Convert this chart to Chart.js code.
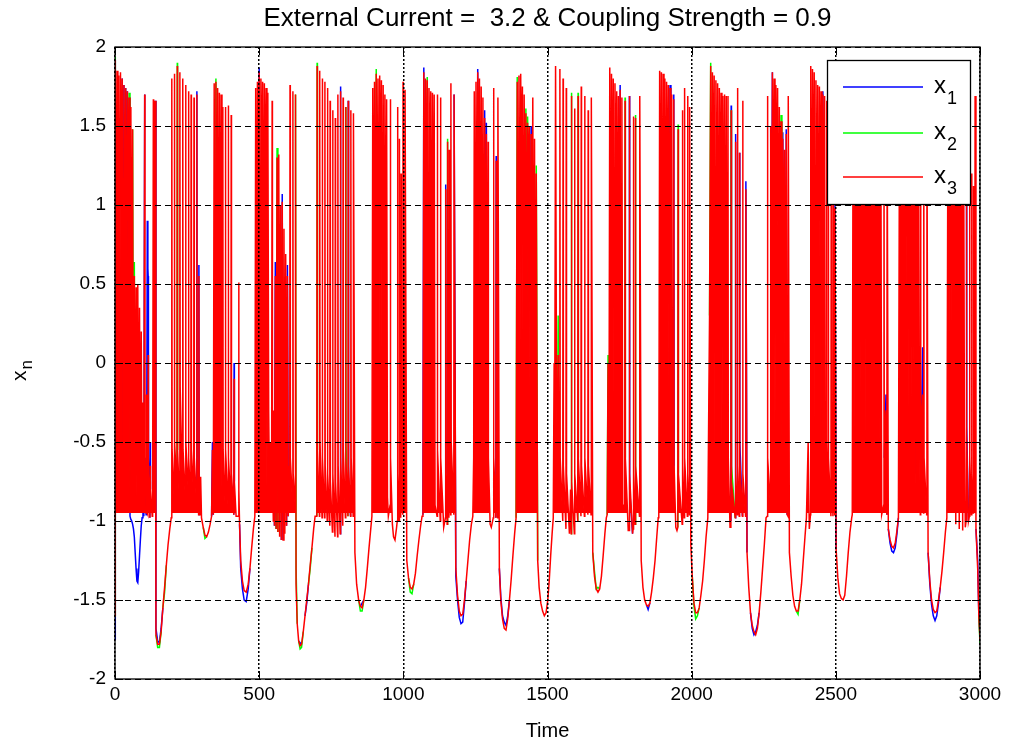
<!DOCTYPE html>
<html>
<head>
<meta charset="utf-8">
<title>External Current = 3.2 &amp; Coupling Strength = 0.9</title>
<script src="https://cdn.jsdelivr.net/npm/chart.js@4.4.1/dist/chart.umd.min.js"></script>
<style>
  html, body { margin: 0; padding: 0; background: #fff; }
  #wrap { width: 1012px; height: 744px; }
</style>
</head>
<body>
<div id="wrap"><canvas id="xnChart" width="1012" height="744"></canvas></div>
<script>
// axis ticks
const xTicks = [0, 500, 1000, 1500, 2000, 2500, 3000];
const yTicks = [-2, -1.5, -1, -0.5, 0, 0.5, 1, 1.5, 2];

// series names / colours (matlab b, g, r)
const seriesNames = ['x1', 'x2', 'x3'];
const seriesColors = ['#0000ff', '#00ff00', '#ff0000'];

// time samples, one line per burst or dip
const timeVals = [
  0,1,4,7,10,13,16,19,22,25,28,31,34,37,40,43,46,49,52,55,58,61,64,
  67,70,73,76,79,82,85,88,91,94,97,100,
  103,104,108,109,110,112,114,115,116,121,122,123,129,130,131,133,134,138,139,142,148,154,160,166,172,178,184,190,195,
  197,198,205,206,207,215,216,217,224,225,226,234,235,236,244,245,246,254,255,256,263,264,265,273,274,275,283,284,285,290,291,292,295,
  297,300,306,312,318,324,330,335,338,341,
  344,347,350,353,356,359,362,365,368,371,374,375,382,383,384,392,393,394,402,403,404,412,413,414,420,428,429,430,432,
  436,442,448,455,462,468,474,480,485,
  488,491,494,497,500,503,506,509,512,515,518,521,524,527,530,533,536,539,543,545,546,549,
  551,553,556,559,562,565,568,571,574,577,580,583,586,589,592,595,598,601,604,
  606,607,608,616,617,618,625,626,628,632,637,642,647,653,659,665,671,677,683,689,694,
  700,701,702,709,710,711,718,719,720,727,728,729,736,737,738,745,746,747,754,755,756,763,764,765,772,773,774,781,782,783,790,791,792,799,800,801,808,809,810,817,818,819,826,827,
  832,838,845,851,857,863,869,875,881,887,891,
  894,897,900,903,906,909,912,915,918,921,924,927,930,933,936,939,942,945,948,954,955,956,962,966,971,976,979,980,981,985,986,987,991,992,993,998,999,1000,1005,1006,
  1012,1018,1024,1030,1036,1042,1048,1054,1060,1065,
  1068,1071,1074,1077,1080,1083,1086,1089,1092,1095,1098,1101,1104,1107,1110,1117,1118,1119,1128,1129,1130,1140,1146,1147,1148,1152,1153,1154,1158,1159,1160,1164,1165,1166,1175,1176,
  1182,1188,1194,1200,1206,1212,1218,1224,1230,1236,1241,
  1244,1246,1249,1252,1255,1258,1261,1264,1267,1270,1273,1276,1279,1282,1285,1288,1291,1294,1295,1301,1305,1312,1313,1314,1321,1322,1323,1327,1328,
  1333,1338,1344,1350,1356,1362,1368,1374,1380,1386,1391,
  1395,1398,1401,1404,1407,1410,1413,1416,1419,1422,1425,1428,1431,1434,1437,1440,1443,1446,1449,1452,1455,1458,1461,
  1466,1471,1477,1483,1489,1495,1501,1506,1511,1516,1520,
  1523,1525,1528,1531,1534,1537,1540,1543,1544,1553,1554,1555,1564,1565,1566,1576,1580,1582,1583,1584,1593,1594,1595,1605,1606,1607,1616,1617,1618,1628,1629,1630,1640,1641,1642,1651,1652,
  1657,1663,1669,1675,1681,1687,1693,1699,1704,
  1707,1710,1713,1716,1719,1722,1725,1728,1731,1734,1737,1740,1743,1746,1749,1752,1755,1758,1761,1768,1769,1770,1780,1783,1784,1785,1795,1797,1798,1799,1804,1805,1806,1819,1820,
  1825,1831,1837,1843,1849,1855,1861,1867,1873,1879,1884,
  1886,1889,1892,1895,1898,1901,1904,1907,1910,1913,1916,1919,1922,1925,1928,1931,1934,1937,1938,1939,1945,1949,1952,1953,1954,1967,1968,1969,1974,1975,1976,1985,1986,1987,1992,1993,
  1997,2002,2008,2014,2020,2026,2032,2038,2044,2050,2056,
  2062,2066,2069,2072,2075,2078,2081,2084,2087,2090,2093,2096,2099,2102,2105,2108,2111,2114,2117,2120,2123,2126,2127,2133,2136,2137,2138,2151,2152,2153,2158,2159,2160,2165,2166,2167,2176,2177,2178,2187,2188,
  2192,2198,2204,2210,2216,2222,2228,2234,2240,2246,2252,2258,
  2262,2263,2264,2273,2274,2277,2280,2283,2286,2289,2292,2295,2298,2301,2304,2307,2310,2313,2316,2319,2322,2325,2328,2331,2334,2335,
  2339,2345,2351,2357,2363,2369,2375,2381,2387,2393,2398,
  2404,2408,2412,2413,2416,2419,2422,2425,2428,2431,2434,2437,2440,2443,2446,2449,2452,2455,2458,2461,2464,2467,2468,2469,2473,2474,2475,2483,2484,2485,2490,2491,2492,2496,2497,
  2501,2507,2513,2519,2525,2531,2537,2543,2549,2555,
  2557,2560,2563,2566,2569,2572,2575,2578,2581,2584,2587,2590,2593,2596,2599,2602,2605,2608,2611,2614,2617,2620,2623,2626,2629,2632,2635,2638,2641,2644,2647,2650,2653,2656,2659,2666,2667,2668,2674,2677,2678,
  2682,2688,2694,2700,2706,2712,2717,
  2721,2724,2727,2730,2733,2736,2739,2742,2745,2748,2751,2754,2757,2760,2763,2766,2769,2772,2775,2778,2781,2784,2787,2790,2793,2794,2795,2801,2804,2805,2806,2815,2816,
  2820,2826,2832,2838,2844,2850,2856,2862,2868,2874,2880,2885,
  2889,2892,2895,2898,2901,2904,2907,2910,2913,2916,2919,2922,2925,2928,2931,2934,2937,2940,2943,2946,2949,2952,2953,2954,2960,2963,2964,2965,2970,2971,2972,2976,2977,2978,2982,2983,2986,2992,2996,3000
];

// x1 (blue)
const x1Vals = [
  -1.75,1.92,-0.2,1.85,0.6,1.82,-0.5,1.84,1.0,1.8,-0.65,1.76,0.3,1.74,-0.6,1.72,0.9,1.68,-0.97,-0.99,-1.0,-1.02,-1.05,
  -1.1,-1.2,-1.3,-1.38,-1.39,-1.32,-1.22,-1.12,-1.03,-0.98,-0.6,-0.97,
  1.7,-0.6,-0.96,-0.96,-0.9,0.9,0.6,0.55,-0.6,-0.98,-0.5,-0.8,-0.97,-0.75,-0.97,1.67,-0.5,-0.9,1.66,-1.68,-1.76,-1.77,-1.68,-1.55,-1.42,-1.28,-1.15,-1.05,-0.98,
  1.8,-0.55,-0.85,1.83,-0.5,-0.8,1.88,-0.55,-0.9,1.84,-0.15,-0.8,1.8,-0.55,-0.85,1.76,-0.5,-0.8,1.72,-0.6,-0.9,1.7,-0.55,-0.85,1.68,-0.6,-0.9,1.72,-0.6,-0.96,0.62,-0.8,-0.96,
  -0.72,-0.98,-1.04,-1.09,-1.1,-1.07,-1.02,-0.97,-0.5,-0.96,
  1.77,-0.6,1.78,0.2,1.74,-0.7,1.71,-0.3,1.7,-0.8,1.62,-0.55,-0.9,1.62,-0.55,-0.9,1.63,-0.6,-0.9,1.57,-0.7,-0.96,0.0,-0.75,-0.97,-0.97,0.51,-0.8,-1.02,
  -1.3,-1.43,-1.5,-1.51,-1.43,-1.3,-1.17,-1.05,-0.97,
  1.74,-0.3,1.78,0.5,1.87,-0.6,1.8,1.0,1.78,-0.2,1.77,0.8,1.74,-0.8,1.71,-0.3,-0.9,-0.5,-0.95,1.66,-0.6,-1.0,
  -0.3,-1.03,0.64,-1.05,1.3,-1.07,1.32,-1.1,1.0,-1.12,1.07,-1.12,0.85,-1.08,0.69,-1.03,0.62,-0.97,-0.65,
  -0.9,1.76,-0.6,-0.9,1.72,-0.7,-0.9,1.7,-1.4,-1.65,-1.76,-1.77,-1.78,-1.7,-1.6,-1.52,-1.4,-1.28,-1.17,-1.05,-0.97,
  -0.97,1.88,-0.55,-0.97,1.85,-0.5,-0.98,1.8,-0.6,-0.98,1.78,-0.65,-1.0,1.74,-0.7,-1.03,1.66,-0.75,-1.07,1.6,-0.7,-1.1,1.55,-0.75,-1.1,1.7,-0.65,-1.08,1.75,-0.6,-1.03,1.68,-0.55,-0.98,1.62,-0.6,-0.97,1.66,-0.72,-0.97,1.6,-0.6,-0.97,1.58,
  -1.2,-1.4,-1.5,-1.54,-1.52,-1.5,-1.42,-1.3,-1.17,-1.05,-0.97,
  1.74,0.2,1.78,-0.6,1.83,0.8,1.8,-0.5,1.82,1.0,1.79,-0.8,1.76,0.2,1.7,-0.3,1.67,-0.85,-0.97,-0.9,1.67,-0.6,-1.02,-1.1,-1.12,-1.05,-1.0,1.62,-0.7,-1.0,1.42,-0.7,-0.98,1.2,-0.75,-0.96,1.78,-0.6,-0.9,1.73,
  -1.25,-1.36,-1.42,-1.43,-1.4,-1.33,-1.22,-1.12,-1.03,-0.97,
  -0.96,1.87,-0.2,1.8,0.6,1.79,-0.6,1.74,1.0,1.72,-0.8,1.71,0.2,1.7,-0.9,-0.97,1.7,-0.55,-1.0,1.68,-0.6,-1.04,-0.98,1.13,-0.7,-1.02,1.4,-0.6,-0.98,1.35,-0.65,-0.96,1.77,-0.5,-0.96,1.7,
  -1.35,-1.5,-1.61,-1.65,-1.64,-1.52,-1.38,-1.25,-1.12,-1.02,-0.97,
  -0.6,1.72,0.4,1.78,-0.5,1.86,0.9,1.8,-0.3,1.75,0.5,1.68,-0.8,1.6,-0.4,1.52,-0.9,1.4,-0.6,-1.02,-1.04,-0.98,1.74,-0.6,-0.98,1.31,-0.6,-0.98,1.68,
  -1.3,-1.48,-1.6,-1.64,-1.66,-1.6,-1.5,-1.37,-1.22,-1.08,-0.98,
  1.78,0.2,1.82,-0.4,1.83,1.1,1.75,-0.6,1.7,0.7,1.58,-0.3,1.52,1.0,1.5,-0.7,1.5,0.3,1.68,-0.85,1.42,-0.9,1.2,
  -1.25,-1.42,-1.52,-1.57,-1.6,-1.58,-1.5,-1.38,-1.22,-1.08,-0.98,
  0.0,-0.5,1.88,-0.1,-0.55,0.05,-0.9,1.86,-0.6,-1.0,1.8,-0.65,-1.05,1.74,-0.7,-1.08,-0.8,-1.08,1.69,-0.75,-1.08,1.61,-0.7,-1.0,1.69,-0.6,-0.97,1.75,-0.65,-0.97,1.69,-0.6,-0.96,1.6,-0.65,-0.96,1.68,
  -1.2,-1.35,-1.43,-1.45,-1.43,-1.35,-1.22,-1.08,-0.98,
  -0.96,0.0,-0.8,1.87,-0.2,1.83,0.6,1.8,-0.5,1.77,0.9,1.72,-0.3,1.69,0.3,1.76,-0.7,1.68,-0.9,-0.9,1.66,-0.6,-1.06,-1.06,1.69,-0.8,-1.08,-1.05,1.56,-0.7,-1.02,1.55,-0.65,-0.97,1.69,
  -1.25,-1.42,-1.5,-1.53,-1.56,-1.52,-1.45,-1.36,-1.25,-1.1,-0.98,
  -0.96,1.85,0.2,1.84,-0.5,1.83,1.0,1.8,-0.2,1.78,0.5,1.76,-0.7,1.76,-0.3,1.7,-0.85,-0.9,1.7,-0.65,-1.04,-1.06,-1.04,1.48,-0.7,-1.02,1.6,-0.65,-0.98,1.74,-0.6,-0.97,1.69,-0.7,-0.96,1.62,
  -1.15,-1.35,-1.52,-1.58,-1.58,-1.55,-1.47,-1.38,-1.25,-1.1,-0.98,
  0.3,1.88,-0.4,1.84,0.8,1.82,-0.6,1.79,0.2,1.77,-0.8,1.74,0.6,1.71,-0.5,1.69,0.1,1.7,-0.9,1.69,-0.3,1.69,-0.6,-1.04,-1.0,1.63,-0.75,-0.98,1.45,-0.7,-0.96,1.74,-0.65,-0.97,1.33,-0.5,-0.97,1.66,-0.7,-0.97,1.15,
  -1.2,-1.42,-1.58,-1.68,-1.72,-1.7,-1.66,-1.58,-1.45,-1.3,-1.15,-0.98,
  -0.97,1.69,-0.6,-0.9,1.5,-0.15,1.84,0.6,1.8,-0.4,1.76,0.9,1.74,-0.2,1.62,0.5,1.53,-0.6,1.46,0.2,1.35,-0.9,1.48,-0.96,-0.97,1.69,
  -1.2,-1.35,-1.47,-1.54,-1.57,-1.57,-1.5,-1.4,-1.25,-1.1,-0.98,
  -0.5,-1.05,-0.96,1.88,-0.3,1.86,0.6,1.84,-0.6,1.79,0.2,1.76,-0.8,1.75,0.9,1.72,-0.4,1.72,0.4,1.69,-0.9,-0.9,1.66,-0.5,-0.9,1.6,-0.6,-0.97,1.48,-0.65,-0.97,1.5,-0.7,-0.96,1.02,
  -1.18,-1.36,-1.46,-1.49,-1.5,-1.47,-1.35,-1.2,-1.07,-0.98,
  -0.96,1.76,-0.5,1.8,0.3,1.84,-0.7,1.82,0.9,1.8,-0.2,1.78,-0.45,1.76,0.5,1.74,-0.8,1.75,1.0,1.72,-0.3,1.7,-0.85,1.7,0.2,1.68,0.1,1.66,-0.9,1.65,-0.7,1.62,-0.5,1.6,-0.96,-0.9,1.58,-0.6,-0.2,-0.96,1.55,
  -1.05,-1.14,-1.19,-1.2,-1.17,-1.08,-0.98,
  1.72,-0.3,1.76,-0.55,1.78,0.4,1.75,-0.7,1.73,0.8,1.7,-0.5,1.7,-0.9,1.68,0.1,1.66,-0.75,1.64,-0.7,1.6,-0.9,1.6,-0.4,-0.96,1.58,-0.6,0.1,-0.95,1.55,-0.6,-0.96,1.5,
  -1.2,-1.4,-1.53,-1.6,-1.63,-1.6,-1.52,-1.42,-1.32,-1.2,-1.07,-0.98,
  1.7,-0.2,1.75,0.5,1.78,-0.7,1.76,0.2,1.74,-1.02,1.72,-0.5,1.7,-1.05,1.66,-0.8,1.62,-1.06,1.6,-0.4,-1.04,-1.0,1.55,-0.4,-1.0,-0.97,1.5,-0.6,-0.96,1.2,-0.7,-0.95,1.12,-0.7,-0.9,1.69,-1.05,-1.25,-1.6,-1.72
];

// x2 (green)
const x2Vals = [
  -1.6,1.94,-0.2,1.85,0.6,1.82,-0.5,1.84,1.0,1.8,-0.8,1.76,0.3,1.74,-0.7,1.72,0.9,1.71,-0.85,1.62,-0.5,1.48,-0.7,
  0.64,-0.9,0.48,-0.85,0.5,-0.9,0.35,-0.9,0.2,-0.9,-0.25,-0.95,
  1.7,-0.6,-0.95,-0.2,-0.8,-0.95,-0.96,0.05,-0.7,-0.98,-0.65,-0.8,-0.97,-0.75,-0.97,1.67,-0.5,-0.9,1.66,-1.72,-1.8,-1.8,-1.7,-1.55,-1.45,-1.28,-1.15,-1.05,-0.98,
  1.8,-0.55,-0.85,1.83,-0.5,-0.8,1.9,-0.55,-0.9,1.84,-0.15,-0.8,1.8,-0.55,-0.85,1.76,-0.5,-0.8,1.72,-0.6,-0.9,1.7,-0.55,-0.85,1.68,-0.6,-0.9,1.7,-0.6,-0.96,0.55,-0.8,-0.96,
  -0.72,-0.98,-1.04,-1.11,-1.1,-1.07,-1.02,-0.97,-0.55,-0.96,
  1.77,-0.6,1.8,0.2,1.74,-0.7,1.71,-0.3,1.7,-0.8,1.62,-0.55,-0.9,1.62,-0.55,-0.9,1.63,-0.6,-0.9,1.57,-0.7,-0.96,-0.1,-0.75,-0.97,-0.97,0.51,-0.8,-1.02,
  -1.25,-1.38,-1.44,-1.45,-1.4,-1.3,-1.17,-1.05,-0.97,
  1.74,-0.3,1.78,0.5,1.84,-0.6,1.8,1.0,1.78,-0.2,1.77,0.8,1.74,-0.8,1.71,-0.3,-0.9,-0.5,-0.95,1.66,-0.6,-1.0,
  -0.3,-1.03,0.55,-1.05,1.36,-1.07,1.32,-1.1,1.0,-1.12,1.02,-1.12,0.85,-1.08,0.69,-1.03,0.55,-0.97,-0.65,
  -0.9,1.76,-0.6,-0.9,1.72,-0.7,-0.9,1.7,-1.3,-1.65,-1.76,-1.81,-1.8,-1.7,-1.6,-1.5,-1.4,-1.3,-1.17,-1.05,-0.97,
  -0.97,1.9,-0.55,-0.97,1.85,-0.5,-0.98,1.8,-0.6,-0.98,1.78,-0.65,-1.0,1.74,-0.7,-1.03,1.66,-0.75,-1.07,1.6,-0.7,-1.1,1.55,-0.75,-1.1,1.7,-0.65,-1.08,1.72,-0.6,-1.03,1.68,-0.55,-0.98,1.62,-0.5,-0.97,1.66,-0.65,-0.97,1.6,-0.6,-0.97,1.58,
  -1.2,-1.4,-1.5,-1.57,-1.57,-1.5,-1.42,-1.3,-1.17,-1.05,-0.97,
  1.74,0.2,1.78,-0.6,1.86,0.8,1.8,-0.5,1.82,1.0,1.79,-0.8,1.76,0.2,1.7,-0.3,1.67,-0.85,-0.97,-0.9,1.67,-0.6,-1.02,-1.1,-1.12,-1.05,-1.0,1.62,-0.7,-1.0,1.42,-0.7,-0.98,1.2,-0.75,-0.96,1.78,-0.6,-0.9,1.73,
  -1.25,-1.36,-1.45,-1.46,-1.4,-1.33,-1.22,-1.12,-1.03,-0.97,
  -0.96,1.84,-0.2,1.8,0.6,1.81,-0.6,1.74,1.0,1.72,-0.8,1.71,0.2,1.7,-0.9,-0.97,1.7,-0.55,-1.0,1.68,-0.6,-1.04,-0.98,1.1,-0.7,-1.02,1.42,-0.6,-0.98,1.35,-0.65,-0.96,1.77,-0.5,-0.96,1.7,
  -1.3,-1.47,-1.57,-1.6,-1.59,-1.5,-1.38,-1.25,-1.12,-1.02,-0.97,
  -0.6,1.72,0.4,1.78,-0.5,1.84,0.9,1.8,-0.3,1.75,0.5,1.68,-0.8,1.55,-0.4,1.45,-0.9,1.4,-0.6,-1.02,-1.04,-0.98,1.74,-0.6,-0.98,1.28,-0.6,-0.98,1.68,
  -1.3,-1.5,-1.62,-1.68,-1.69,-1.62,-1.5,-1.37,-1.22,-1.08,-0.98,
  1.81,0.2,1.82,-0.4,1.83,1.1,1.75,-0.6,1.7,0.7,1.61,-0.3,1.56,1.0,1.5,-0.7,1.45,0.3,1.68,-0.85,1.42,-0.9,1.25,
  -1.25,-1.42,-1.52,-1.57,-1.6,-1.58,-1.5,-1.38,-1.22,-1.08,-0.98,
  0.0,-0.5,1.88,-0.1,-0.55,0.3,-0.9,1.86,-0.6,-1.0,1.8,-0.65,-1.05,1.74,-0.7,-1.08,-0.8,-1.08,1.71,-0.75,-1.08,1.61,-0.7,-1.0,1.71,-0.6,-0.97,1.75,-0.65,-0.97,1.69,-0.6,-0.96,1.6,-0.65,-0.96,1.68,
  -1.2,-1.32,-1.43,-1.42,-1.43,-1.35,-1.22,-1.08,-0.98,
  -0.96,0.05,-0.8,1.87,-0.2,1.83,0.6,1.8,-0.5,1.77,0.9,1.72,-0.3,1.69,0.3,1.73,-0.7,1.68,-0.9,-0.9,1.68,-0.6,-1.06,-1.06,1.69,-0.7,-1.08,-1.05,1.56,-0.7,-1.02,1.57,-0.65,-0.97,1.69,
  -1.25,-1.42,-1.5,-1.53,-1.54,-1.52,-1.45,-1.36,-1.25,-1.1,-0.98,
  -0.96,1.85,0.2,1.84,-0.5,1.83,1.0,1.8,-0.2,1.78,0.5,1.76,-0.7,1.74,-0.3,1.7,-0.85,-0.9,1.67,-0.65,-1.04,-1.06,-1.04,1.51,-0.7,-1.02,1.6,-0.65,-0.98,1.74,-0.6,-0.97,1.69,-0.7,-0.96,1.62,
  -1.15,-1.35,-1.54,-1.62,-1.6,-1.55,-1.47,-1.38,-1.25,-1.1,-0.98,
  0.3,1.9,-0.4,1.84,0.8,1.82,-0.6,1.79,0.2,1.77,-0.8,1.74,0.6,1.71,-0.5,1.69,0.1,1.7,-0.9,1.69,-0.3,1.69,-0.6,-1.04,-1.0,1.6,-0.65,-0.98,1.4,-0.7,-0.96,1.74,-0.65,-0.97,1.33,-0.6,-0.97,1.66,-0.7,-0.97,1.1,
  -1.2,-1.42,-1.58,-1.66,-1.7,-1.72,-1.68,-1.58,-1.45,-1.3,-1.15,-0.98,
  -0.97,1.69,-0.6,-0.9,1.5,0.0,1.84,0.6,1.8,-0.4,1.76,0.9,1.74,-0.2,1.62,0.5,1.57,-0.6,1.42,0.2,1.35,-0.9,1.45,-0.96,-0.97,1.69,
  -1.2,-1.35,-1.47,-1.54,-1.57,-1.59,-1.5,-1.4,-1.25,-1.1,-0.98,
  -0.5,-1.05,-0.96,1.88,-0.3,1.86,0.6,1.84,-0.6,1.79,0.2,1.76,-0.8,1.75,0.9,1.72,-0.4,1.7,0.4,1.69,-0.9,-0.9,1.66,-0.5,-0.9,1.6,-0.6,-0.97,1.48,-0.65,-0.97,1.5,-0.7,-0.96,0.98,
  -1.18,-1.36,-1.46,-1.49,-1.5,-1.47,-1.35,-1.2,-1.07,-0.98,
  -0.96,1.76,-0.5,1.8,0.3,1.84,-0.7,1.82,0.9,1.8,-0.2,1.78,-0.45,1.76,0.5,1.74,-0.8,1.75,1.0,1.72,-0.3,1.7,-0.85,1.7,0.2,1.68,-0.05,1.66,-0.9,1.65,-0.75,1.62,-0.5,1.6,-0.96,-0.9,1.58,-0.6,-0.3,-0.96,1.55,
  -1.05,-1.12,-1.16,-1.17,-1.14,-1.06,-0.98,
  1.72,-0.3,1.76,-0.5,1.78,0.4,1.75,-0.7,1.73,0.8,1.7,-0.5,1.7,-0.9,1.68,0.1,1.66,-0.75,1.64,-0.8,1.6,-0.9,1.6,-0.4,-0.96,1.58,-0.6,-0.2,-0.95,1.55,-0.6,-0.96,1.5,
  -1.2,-1.38,-1.5,-1.56,-1.58,-1.57,-1.5,-1.42,-1.32,-1.2,-1.07,-0.98,
  1.7,-0.2,1.75,0.5,1.78,-0.7,1.76,0.2,1.74,-1.02,1.72,-0.5,1.7,-1.05,1.66,-0.8,1.62,-1.06,1.6,-0.4,-1.04,-1.0,1.55,-0.45,-1.0,-0.97,1.5,-0.6,-0.96,1.2,-0.7,-0.95,1.12,-0.7,-0.9,1.69,-1.05,-1.3,-1.6,-1.78
];

// x3 (red)
const x3Vals = [
  -1.6,1.92,-0.2,1.85,0.6,1.82,-0.5,1.84,1.0,1.8,-0.8,1.76,0.3,1.74,-0.7,1.72,0.9,1.68,-0.85,1.62,-0.5,1.48,-0.9,
  0.55,-0.9,0.48,-0.85,0.5,-0.9,0.35,-0.9,0.2,-0.9,-0.25,-0.95,
  1.7,-0.6,-0.95,-0.2,-0.8,-0.95,-0.96,0.05,-0.7,-0.98,-0.65,-0.8,-0.97,-0.75,-0.97,1.67,-0.5,-0.9,1.66,-1.72,-1.78,-1.78,-1.7,-1.55,-1.42,-1.28,-1.15,-1.05,-0.98,
  1.8,-0.55,-0.85,1.83,-0.5,-0.8,1.88,-0.55,-0.9,1.84,-0.15,-0.8,1.8,-0.55,-0.85,1.76,-0.5,-0.8,1.72,-0.6,-0.9,1.7,-0.55,-0.85,1.68,-0.6,-0.9,1.7,-0.6,-0.96,0.55,-0.8,-0.96,
  -0.72,-0.98,-1.04,-1.09,-1.1,-1.07,-1.02,-0.97,-0.55,-0.96,
  1.77,-0.6,1.78,0.2,1.74,-0.7,1.71,-0.3,1.7,-0.8,1.62,-0.55,-0.9,1.62,-0.55,-0.9,1.63,-0.6,-0.9,1.57,-0.7,-0.96,-0.1,-0.75,-0.97,-0.97,0.51,-0.8,-1.02,
  -1.25,-1.38,-1.44,-1.45,-1.4,-1.3,-1.17,-1.05,-0.97,
  1.74,-0.3,1.78,0.5,1.84,-0.6,1.8,1.0,1.78,-0.2,1.77,0.8,1.74,-0.8,1.71,-0.3,-0.9,-0.5,-0.95,1.66,-0.6,-1.0,
  -0.3,-1.03,0.55,-1.05,1.3,-1.07,1.32,-1.1,1.0,-1.12,1.02,-1.12,0.85,-1.08,0.69,-1.03,0.55,-0.97,-0.65,
  -0.9,1.76,-0.6,-0.9,1.72,-0.7,-0.9,1.7,-1.4,-1.65,-1.76,-1.79,-1.78,-1.7,-1.6,-1.5,-1.4,-1.28,-1.17,-1.05,-0.97,
  -0.97,1.88,-0.55,-0.97,1.85,-0.5,-0.98,1.8,-0.6,-0.98,1.78,-0.65,-1.0,1.74,-0.7,-1.03,1.66,-0.75,-1.07,1.6,-0.7,-1.1,1.55,-0.75,-1.1,1.7,-0.65,-1.08,1.72,-0.6,-1.03,1.68,-0.55,-0.98,1.62,-0.6,-0.97,1.66,-0.65,-0.97,1.6,-0.6,-0.97,1.58,
  -1.2,-1.4,-1.5,-1.54,-1.55,-1.5,-1.42,-1.3,-1.17,-1.05,-0.97,
  1.74,0.2,1.78,-0.6,1.83,0.8,1.8,-0.5,1.82,1.0,1.79,-0.8,1.76,0.2,1.7,-0.3,1.67,-0.85,-0.97,-0.9,1.67,-0.6,-1.02,-1.1,-1.12,-1.05,-1.0,1.62,-0.7,-1.0,1.42,-0.7,-0.98,1.2,-0.75,-0.96,1.78,-0.6,-0.9,1.73,
  -1.25,-1.36,-1.42,-1.43,-1.4,-1.33,-1.22,-1.12,-1.03,-0.97,
  -0.96,1.84,-0.2,1.8,0.6,1.79,-0.6,1.74,1.0,1.72,-0.8,1.71,0.2,1.7,-0.9,-0.97,1.7,-0.55,-1.0,1.68,-0.6,-1.04,-0.98,1.1,-0.7,-1.02,1.4,-0.6,-0.98,1.35,-0.65,-0.96,1.77,-0.5,-0.96,1.7,
  -1.3,-1.47,-1.57,-1.6,-1.59,-1.5,-1.38,-1.25,-1.12,-1.02,-0.97,
  -0.6,1.72,0.4,1.78,-0.5,1.84,0.9,1.8,-0.3,1.75,0.5,1.68,-0.8,1.55,-0.4,1.45,-0.9,1.4,-0.6,-1.02,-1.04,-0.98,1.74,-0.6,-0.98,1.28,-0.6,-0.98,1.68,
  -1.3,-1.5,-1.62,-1.68,-1.69,-1.62,-1.5,-1.37,-1.22,-1.08,-0.98,
  1.78,0.2,1.82,-0.4,1.83,1.1,1.75,-0.6,1.7,0.7,1.58,-0.3,1.52,1.0,1.5,-0.7,1.45,0.3,1.68,-0.85,1.42,-0.9,1.2,
  -1.25,-1.42,-1.52,-1.57,-1.6,-1.58,-1.5,-1.38,-1.22,-1.08,-0.98,
  0.0,-0.5,1.88,-0.1,-0.55,0.05,-0.9,1.86,-0.6,-1.0,1.8,-0.65,-1.05,1.74,-0.7,-1.08,-0.8,-1.08,1.69,-0.75,-1.08,1.61,-0.7,-1.0,1.69,-0.6,-0.97,1.75,-0.65,-0.97,1.69,-0.6,-0.96,1.6,-0.65,-0.96,1.68,
  -1.2,-1.35,-1.43,-1.45,-1.43,-1.35,-1.22,-1.08,-0.98,
  -0.96,0.0,-0.8,1.87,-0.2,1.83,0.6,1.8,-0.5,1.77,0.9,1.72,-0.3,1.69,0.3,1.73,-0.7,1.68,-0.9,-0.9,1.66,-0.6,-1.06,-1.06,1.69,-0.7,-1.08,-1.05,1.56,-0.7,-1.02,1.55,-0.65,-0.97,1.69,
  -1.25,-1.42,-1.5,-1.53,-1.54,-1.52,-1.45,-1.36,-1.25,-1.1,-0.98,
  -0.96,1.85,0.2,1.84,-0.5,1.83,1.0,1.8,-0.2,1.78,0.5,1.76,-0.7,1.74,-0.3,1.7,-0.85,-0.9,1.67,-0.65,-1.04,-1.06,-1.04,1.48,-0.7,-1.02,1.6,-0.65,-0.98,1.74,-0.6,-0.97,1.69,-0.7,-0.96,1.62,
  -1.15,-1.35,-1.52,-1.58,-1.58,-1.55,-1.47,-1.38,-1.25,-1.1,-0.98,
  0.3,1.88,-0.4,1.84,0.8,1.82,-0.6,1.79,0.2,1.77,-0.8,1.74,0.6,1.71,-0.5,1.69,0.1,1.7,-0.9,1.69,-0.3,1.69,-0.6,-1.04,-1.0,1.6,-0.75,-0.98,1.4,-0.7,-0.96,1.74,-0.65,-0.97,1.33,-0.6,-0.97,1.66,-0.7,-0.97,1.1,
  -1.2,-1.42,-1.58,-1.66,-1.7,-1.72,-1.68,-1.58,-1.45,-1.3,-1.15,-0.98,
  -0.97,1.69,-0.6,-0.9,1.5,0.0,1.84,0.6,1.8,-0.4,1.76,0.9,1.74,-0.2,1.62,0.5,1.53,-0.6,1.42,0.2,1.35,-0.9,1.45,-0.96,-0.97,1.69,
  -1.2,-1.35,-1.47,-1.54,-1.57,-1.57,-1.5,-1.4,-1.25,-1.1,-0.98,
  -0.5,-1.05,-0.96,1.88,-0.3,1.86,0.6,1.84,-0.6,1.79,0.2,1.76,-0.8,1.75,0.9,1.72,-0.4,1.7,0.4,1.69,-0.9,-0.9,1.66,-0.5,-0.9,1.6,-0.6,-0.97,1.48,-0.65,-0.97,1.5,-0.7,-0.96,0.98,
  -1.18,-1.36,-1.46,-1.49,-1.5,-1.47,-1.35,-1.2,-1.07,-0.98,
  -0.96,1.76,-0.5,1.8,0.3,1.84,-0.7,1.82,0.9,1.8,-0.2,1.78,-0.45,1.76,0.5,1.74,-0.8,1.75,1.0,1.72,-0.3,1.7,-0.85,1.7,0.2,1.68,-0.05,1.66,-0.9,1.65,-0.75,1.62,-0.5,1.6,-0.96,-0.9,1.58,-0.6,-0.3,-0.96,1.55,
  -1.05,-1.12,-1.16,-1.17,-1.14,-1.06,-0.98,
  1.72,-0.3,1.76,-0.55,1.78,0.4,1.75,-0.7,1.73,0.8,1.7,-0.5,1.7,-0.9,1.68,0.1,1.66,-0.75,1.64,-0.8,1.6,-0.9,1.6,-0.4,-0.96,1.58,-0.6,-0.2,-0.95,1.55,-0.6,-0.96,1.5,
  -1.2,-1.38,-1.5,-1.56,-1.58,-1.57,-1.5,-1.42,-1.32,-1.2,-1.07,-0.98,
  1.7,-0.2,1.75,0.5,1.78,-0.7,1.76,0.2,1.74,-1.02,1.72,-0.5,1.7,-1.05,1.66,-0.8,1.62,-1.06,1.6,-0.4,-1.04,-1.0,1.55,-0.45,-1.0,-0.97,1.5,-0.6,-0.96,1.2,-0.7,-0.95,1.12,-0.7,-0.9,1.69,-1.05,-1.3,-1.6,-1.75
];

const fontFamily = "'Liberation Sans', Arial, sans-serif";

function toPoints(vals) {
  return timeVals.map((t, i) => ({ x: t, y: vals[i] }));
}

// x3 is drawn last, so where x1/x2 sit exactly under it their stroke is left out
function strokeWhereDifferent(vals, color) {
  return ctx => (vals[ctx.p0DataIndex] === x3Vals[ctx.p0DataIndex] &&
                 vals[ctx.p1DataIndex] === x3Vals[ctx.p1DataIndex]) ? 'rgba(0,0,0,0)' : color;
}

// matlab style box, inward ticks, y label with subscript and the legend box
const matlabFrame = {
  id: 'matlabFrame',
  afterDraw(chart) {
    const { ctx, chartArea: a, scales: { x, y } } = chart;
    ctx.save();
    ctx.strokeStyle = '#000';
    ctx.lineWidth = 1.3;
    ctx.strokeRect(a.left, a.top, a.right - a.left, a.bottom - a.top);

    ctx.lineWidth = 1;
    ctx.beginPath();
    xTicks.forEach(v => {
      const px = Math.round(x.getPixelForValue(v)) + 0.5;
      ctx.moveTo(px, a.bottom); ctx.lineTo(px, a.bottom - 8);
      ctx.moveTo(px, a.top); ctx.lineTo(px, a.top + 8);
    });
    yTicks.forEach(v => {
      const py = Math.round(y.getPixelForValue(v)) + 0.5;
      ctx.moveTo(a.left, py); ctx.lineTo(a.left + 8, py);
      ctx.moveTo(a.right, py); ctx.lineTo(a.right - 8, py);
    });
    ctx.stroke();

    // y axis label x_n
    ctx.save();
    ctx.translate(26, 381);
    ctx.rotate(-Math.PI / 2);
    ctx.fillStyle = '#000';
    ctx.textAlign = 'left';
    ctx.textBaseline = 'alphabetic';
    ctx.font = '21px ' + fontFamily;
    ctx.fillText('x', 0, 0);
    const xw = ctx.measureText('x').width;
    ctx.font = '17px ' + fontFamily;
    ctx.fillText('n', xw + 1, 6);
    ctx.restore();

    // legend
    const lx = 827.5, ly = 60.5, lw = 143, lh = 144;
    ctx.fillStyle = '#fff';
    ctx.fillRect(lx, ly, lw, lh);
    ctx.strokeStyle = '#000';
    ctx.lineWidth = 1.3;
    ctx.strokeRect(lx, ly, lw, lh);
    const rowY = [87, 133, 177];
    seriesNames.forEach((name, i) => {
      ctx.strokeStyle = seriesColors[i];
      ctx.lineWidth = 1.5;
      ctx.beginPath();
      ctx.moveTo(843, rowY[i]);
      ctx.lineTo(923, rowY[i]);
      ctx.stroke();
      ctx.fillStyle = '#000';
      ctx.textAlign = 'left';
      ctx.font = '24px ' + fontFamily;
      ctx.fillText(name.charAt(0), 934, rowY[i] + 6);
      ctx.font = '18px ' + fontFamily;
      ctx.fillText(name.slice(1), 947, rowY[i] + 17);
    });
    ctx.restore();
  }
};

new Chart(document.getElementById('xnChart'), {
  type: 'line',
  data: {
    datasets: [
      { label: seriesNames[0], data: toPoints(x1Vals), borderColor: seriesColors[0], borderWidth: 1.5, pointRadius: 0, fill: false, order: 2,
        segment: { borderColor: strokeWhereDifferent(x1Vals, seriesColors[0]) } },
      { label: seriesNames[1], data: toPoints(x2Vals), borderColor: seriesColors[1], borderWidth: 1.5, pointRadius: 0, fill: false, order: 1,
        segment: { borderColor: strokeWhereDifferent(x2Vals, seriesColors[1]) } },
      { label: seriesNames[2], data: toPoints(x3Vals), borderColor: seriesColors[2], backgroundColor: seriesColors[2], borderWidth: 1.5, pointRadius: 0,
        fill: { target: { value: -0.95 }, above: seriesColors[2], below: 'rgba(0,0,0,0)' }, order: 0 }
    ]
  },
  options: {
    responsive: false,
    animation: false,
    devicePixelRatio: 1,
    events: [],
    layout: { padding: { left: 0, right: 32, top: 0, bottom: 0 } },
    plugins: {
      legend: { display: false },
      tooltip: { enabled: false },
      title: {
        display: true,
        fullSize: false,
        text: 'External Current =  3.2 & Coupling Strength = 0.9',
        color: '#000',
        font: { family: fontFamily, size: 26, weight: 'normal' },
        padding: { top: 3, bottom: 12.8 }
      }
    },
    scales: {
      x: {
        type: 'linear',
        min: 0,
        max: 3000,
        afterBuildTicks: s => { s.ticks = xTicks.map(v => ({ value: v })); },
        afterFit: s => { s.height = 65; },
        ticks: { autoSkip: false, maxRotation: 0, padding: 4, color: '#000', font: { family: fontFamily, size: 19 }, callback: v => String(v) },
        grid: { color: '#000', lineWidth: 1.5, drawTicks: false, z: 1 },
        border: { display: false, dash: [2, 2] },
        title: { display: true, text: 'Time', color: '#000', font: { family: fontFamily, size: 20 }, padding: { top: 0, bottom: 1 } }
      },
      y: {
        type: 'linear',
        min: -2,
        max: 2,
        afterBuildTicks: s => { s.ticks = yTicks.map(v => ({ value: v })); },
        afterFit: s => { s.width = 115; },
        ticks: { autoSkip: false, padding: 9, color: '#000', font: { family: fontFamily, size: 19 }, callback: v => String(v) },
        grid: { color: '#000', lineWidth: 1, drawTicks: false, z: 1 },
        border: { display: false, dash: [6, 4] }
      }
    }
  },
  plugins: [matlabFrame]
});
</script>
</body>
</html>
